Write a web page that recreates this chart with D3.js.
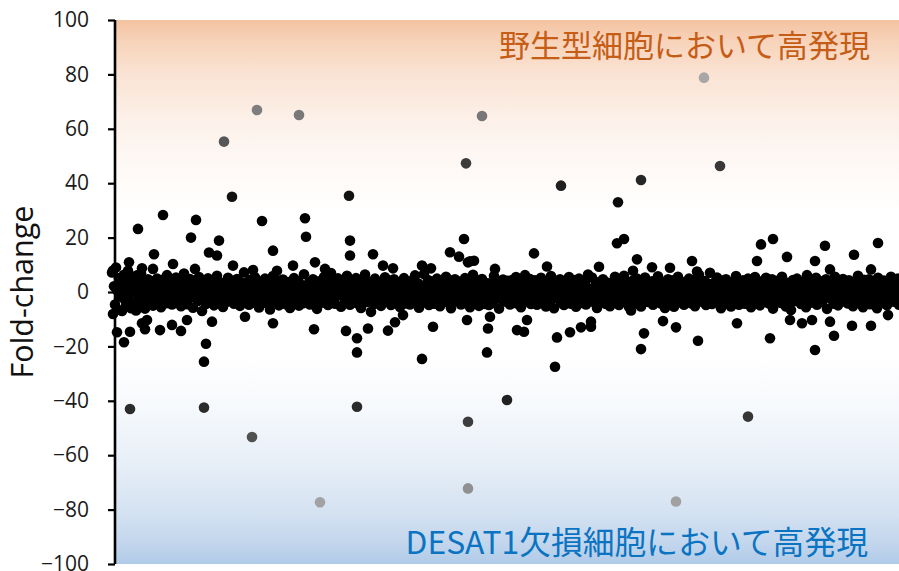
<!DOCTYPE html>
<html>
<head>
<meta charset="utf-8">
<script src="https://cdn.jsdelivr.net/npm/d3@7"></script>
<style>
  html, body { margin: 0; padding: 0; background: #fff; }
  svg { display: block; }
</style>
</head>
<body>
<svg id="chart" width="899" height="571"></svg>
<script>
// Y axis ticks (fold-change)
const yTicks = [-100, -80, -60, -40, -20, 0, 20, 40, 60, 80, 100];

// Region labels
const upperLabel = "野生型細胞において高発現";
const lowerLabel = "DESAT1欠損細胞において高発現";
const yTitle = "Fold-change";

// Fold-change of the bulk of genes, in gene order (gene rank = array position)
const bulkFoldChange = [
  7.2,-8.1,2.1,-4.6,9.0,0.6,-6.5,5.1,-1.7,3.2,-7.0,1.1,6.3,-2.9,-5.2,2.7,7.8,-0.9,4.3,-6.0,
  0.3,5.6,-3.9,1.8,-6.8,6.1,-1.2,2.9,-4.8,6.9,-2.4,0.8,4.0,-6.1,1.4,-0.5,4.7,-4.2,2.3,-1.9,
  3.8,-5.0,0.9,2.6,-2.2,4.9,-3.4,-0.4,1.7,-5.6,4.5,-1.5,0.2,2.8,-4.1,6.2,-0.7,1.3,-2.7,3.5,
  -4.6,0.5,2.4,-1.8,5.3,-3.7,1.0,-0.2,4.2,-5.2,2.0,-2.5,6.8,-1.1,0.7,-4.5,3.1,-0.6,4.8,-2.0,
  1.6,-5.8,3.6,-1.4,0.1,2.5,-3.3,5.5,-0.8,1.9,-7.0,3.9,-2.3,0.4,-4.4,2.2,5.0,-1.0,-3.0,1.2,
  4.4,-0.3,-4.9,2.7,-1.6,6.0,0.9,-3.8,1.5,-2.1,3.3,-5.5,0.6,2.3,-0.9,-3.6,5.2,1.8,-1.3,-2.6,
  0.0,4.1,-4.3,1.4,-0.5,4.8,-2.4,2.1,-5.1,0.8,3.5,-1.7,7.2,-3.4,1.1,-0.1,2.6,-4.7,4.5,-2.2,
  1.9,-0.7,-3.9,5.4,0.3,-1.9,3.0,-5.7,1.0,3.8,-3.1,0.5,-1.2,4.9,-4.0,2.0,-0.4,1.6,-6.4,3.3,
  -2.0,5.9,0.7,-3.6,2.2,-1.1,4.2,-4.9,0.2,1.8,-2.6,4.6,-0.8,3.1,-4.5,1.3,-1.5,3.7,-5.9,0.9,
  2.5,-3.3,5.1,-0.2,1.1,-2.3,4.0,-5.0,0.4,2.7,-1.4,-4.1,6.5,0.8,-2.9,1.7,-0.6,3.4,-4.6,2.3,
  -1.0,4.7,-3.5,0.1,2.0,-6.2,1.5,3.9,-1.8,-0.3,3.1,-3.9,5.5,-2.1,0.6,1.9,-4.8,3.5,-0.9,7.0,
  -2.5,0.3,4.5,-4.3,1.2,-1.3,5.0,-0.5,2.4,-5.4,0.9,3.3,-2.0,-3.4,1.6,6.0,-1.6,2.1,-4.7,0.0,
  3.9,-3.0,1.4,-0.1,5.1,-4.1,2.6,-1.2,0.5,-5.9,4.3,1.0,-2.2,6.4,-0.7,-3.7,2.2,-1.9,3.7,-7.3,
  0.7,2.0,-4.4,4.9,-1.4,1.3,-2.5,3.4,-0.4,-5.1,3.0,0.2,-3.2,5.4,-1.1,1.8,-3.1,4.2,-0.2,-4.8,
  2.4,-1.6,4.7,0.4,-3.6,1.6,-0.8,3.6,-5.5,2.1,-2.4,0.9,5.1,-4.2,1.2,-0.3,2.9,-1.8,-4.6,4.0,
  -0.6,1.5,-3.5,6.1,-2.0,0.6,3.2,-5.8,1.9,-1.0,2.3,-3.9,6.6,-0.9,0.2,-2.8,4.4,-4.8,1.1,2.6,
  -1.5,3.8,-4.3,0.8,-0.1,4.9,-2.7,1.7,-5.2,3.5,0.3,-1.9,2.5,-3.7,5.6,-0.5,1.0,-2.3,4.3,-6.0,
  0.6,2.2,-3.3,4.7,-1.7,0.1,3.9,-3.0,1.4,-4.6,3.1,-0.7,-4.0,5.1,1.2,-2.1,0.4,3.6,-5.6,1.8,
  -0.9,6.3,-3.2,2.0,-1.3,0.7,4.2,-5.1,-2.4,1.5,4.8,-0.3,2.6,-4.4,0.9,-1.6,3.2,-4.8,2.3,-0.1,
  1.7,-4.0,5.9,-2.2,0.5,3.5,-1.0,-6.1,3.0,0.0,-2.8,4.6,-0.6,1.3,-3.6,4.1,-1.4,2.1,-4.6,0.8,
  4.4,-2.0,1.0,-0.4,5.5,-4.2,2.4,-1.2,0.3,-5.6,3.4,-2.5,1.9,6.2,-0.8,-3.5,2.9,-1.7,4.8,-4.4,
  0.2,1.6,-3.1,4.3,-0.5,-4.7,2.2,0.9,-1.9,5.2,-3.7,1.3,-0.2,3.3,-5.3,2.5,-1.1,0.6,-3.4,5.9,
  -1.8,3.1,-6.0,1.1,4.0,-2.3,0.4,-0.9,4.7,-3.9,2.0,-1.5,-4.8,3.6,0.7,-2.7,1.8,5.5,-0.3,-4.3,
  2.6,-1.2,0.1,4.4,-5.4,1.4,-2.1,4.9,-0.7,2.3,-4.0,0.8,-1.6,3.9,-4.6,1.7,6.4,-3.0,0.3,-0.9,
  5.3,-3.6,1.2,-2.0,3.0,-5.9,0.5,3.7,-1.4,-3.2,2.1,4.7,-0.4,1.5,-4.4,0.0,3.4,-2.4,-5.2,2.4,
  -0.8,1.9,-3.9,5.6,-1.9,0.7,2.9,-4.8,4.1,-0.2,-2.6,1.2,6.0,-3.5,0.9,-1.3,3.6,-5.5,2.0,-6.8,
  0.4,4.2,-2.9,1.6,-0.6,4.9,-4.3,2.5,-1.1,-5.3,3.3,0.2,-2.2,5.3,-0.4,1.4,-3.7,3.1,-1.8,0.9,
  3.9,-4.7,1.7,-0.3,2.3,-3.1,5.8,-1.5,0.6,-4.2,3.5,-0.9,1.1,-5.9,2.8,-2.0,4.7,0.1,-3.4,1.9,
  -1.2,4.3,-5.4,0.8,2.1,-2.4,5.6,-0.7,1.3,-3.9,3.7,-1.7,-4.7,2.9,0.5,-3.0,1.8,4.9,-0.1,-4.1,
  2.2,-1.4,4.4,-5.2,0.3,1.6,-2.1,6.3,-0.8,3.0,-3.6,0.7,-1.0,4.0,-4.8,2.4,-2.7,1.0,7.1,-0.5,
  -4.4,1.4,3.4,-1.9,0.0,5.3,-3.2,2.1,-0.6,-6.0,4.2,1.1,-2.3,0.6,4.7,-3.9,1.7,-1.3,3.1,-5.3,
  0.9,-0.2,3.6,-2.9,5.9,-1.6,1.5,-4.7,2.5,-3.5,0.4,4.3,-1.1,-4.3,2.0,-0.4,4.9,-2.5,1.2,-5.6,
  3.3,0.2,-2.0,5.5,-3.7,1.8,-0.9,2.9,-4.9,0.8,3.9,-1.8,-3.2,1.3,5.2,-0.6,2.2,-4.2,0.5,-1.5,
  4.7,-6.1,2.4,-0.1,1.0,-3.1,4.2,-1.2,0.6,-4.0,5.6,-2.2,1.9,-0.8,-5.3,3.4,0.3,-2.4,2.8,-6.6,
  1.4,4.4,-3.4,0.2,-1.7,4.9,-2.7,2.3,-0.4,-4.4,3.7,0.7,-1.4,2.0,-5.6,6.2,-0.7,1.6,-3.0,3.5,
  -3.9,0.5,3.1,-1.0,5.2,-4.7,1.2,-2.3,4.0,-0.3,-3.6,2.1,0.9,-1.9,4.7,-6.2,1.7,-0.5,3.3,-2.6,
  0.1,2.8,-4.3,5.6,-1.3,0.8,-4.9,3.6,-0.9,1.9,-2.9,4.8,-3.5,0.4,2.6,-1.5,-4.2,4.3,1.0,-0.2,
  3.0,-5.2,1.3,-2.1,3.9,-0.6,6.0,-3.7,0.6,-1.1,2.2,-5.6,4.5,0.0,-2.8,1.5,-0.8,4.7,-4.5,2.0,
  -1.6,0.7,3.5,-3.2,1.8,-6.0,5.2,-0.3,2.7,-2.2,0.3,-4.0,4.2,1.1,-1.2,-4.9,3.1,0.9,-3.1,5.6,
  -0.5,1.6,-3.6,3.8,-1.8,0.2,4.9,-4.7,2.1,-0.7,-2.5,3.3,1.2,-4.5,0.6,6.1,-1.4,3.0,-5.4,0.0
];

// Genes standing out from the bulk: gene rank and fold-change
const distinctRank = [
  145, 187, 112, 370, 354, 592, 608, 120, 237, 449, 529, 506,
  51, 26, 84, 150, 193, 79, 107, 194, 238, 352, 505, 512, 649, 661, 713, 766,
  42, 161, 97, 105, 238, 261, 338, 347, 422, 675, 742, 525,
  17, 362, 356, 181, 203, 271, 310, 61, 121, 83, 30, 41, 383, 281, 319,
  165, 141, 213, 435, 540, 580, 645, 703, 487, 558, 718, 759, 521, 585, 1, 358,
  18, 92, 245, 140, 356, 395, 208, 356, 636, 564,
  92, 94, 245, 245, 310, 375, 12, 5, 18, 33, 48, 60, 69, 75, 100, 161,
  202, 234, 256, 276, 283, 321, 376, 378, 133, 35, 30, 443, 445, 458, 469,
  479, 479, 405, 412, 529, 532, 586, 658, 703, 722, 740, 759, 551, 564,
  625, 678, 690, 700, 718, 776, 355, 291, 415
];
const distinctFoldChange = [
  66.9, 65.1, 55.3, 64.7, 47.3, 78.8, 46.3, 35.0, 35.4, 39.1, 41.2, 33.0,
  28.3, 23.2, 26.5, 26.1, 27.1, 20.0, 18.9, 20.3, 18.9, 19.5, 17.9, 19.5, 17.5, 19.5, 17.0, 18.0,
  13.9, 15.2, 14.5, 13.4, 13.4, 13.9, 14.6, 13.0, 14.2, 12.9, 13.7, 12.0,
  10.9, 11.5, 10.9, 9.7, 10.9, 9.7, 9.7, 10.3, 9.7, 8.5, 8.7, 8.5, 8.5, 8.7, 8.7,
  7.8, 8.1, 8.5, 9.4, 9.1, 11.4, 11.4, 11.4, 9.3, 8.9, 8.3, 8.3, 7.8, 7.5, 7.9, 11.3,
  -43.0, -42.5, -42.2, -53.3, -47.7, -39.7, -77.3, -72.2, -45.8, -77.0,
  -25.6, -19.0, -22.2, -17.0, -24.6, -22.2, -18.5, -14.8, -14.6, -13.7, -14.0, -12.1, -14.3, -10.3, -10.9, -11.5,
  -13.7, -14.3, -13.4, -14.2, -11.1, -12.8, -13.4, -9.1, -9.1, -10.3, -11.5, -27.5, -16.7, -14.8, -13.0,
  -12.8, -10.9, -14.0, -14.6, -21.0, -15.2, -17.9, -17.0, -21.3, -16.1, -12.4, -12.4, -10.7, -13.0,
  -11.5, -10.3, -11.5, -10.3, -10.9, -8.5, -10.3, -8.5, -10.3
];

const plotLeft = 115, plotRight = 899, plotTop = 20, plotBottom = 564;

const svg = d3.select("#chart");

const x = d3.scaleLinear().domain([0, 790]).range([112, 902]);
const y = d3.scaleLinear().domain([-100, 100]).range([plotBottom, plotTop]);

// Shade of a point grows lighter the further it lies from zero
const shade = d3.scaleLinear().domain([30, 80]).range(["#000000", "#ababab"]).clamp(true);

// Background: orange toward the top, blue toward the bottom
const defs = svg.append("defs");
const grad = defs.append("linearGradient")
  .attr("id", "bg").attr("x1", 0).attr("y1", 0).attr("x2", 0).attr("y2", 1);
[
  [0, "#F4C3A0"], [0.04, "#F7D3BA"], [0.1, "#FAE3D4"], [0.18, "#FCF0E8"], [0.27, "#FEF9F6"], [0.36, "#FFFFFF"],
  [0.62, "#FFFFFF"], [0.72, "#F5F8FC"], [0.82, "#E6EEF7"], [0.91, "#D3E1F1"], [0.97, "#BFD4EC"], [1, "#B0CAE7"]
].forEach(([o, c]) => grad.append("stop").attr("offset", o).attr("stop-color", c));

svg.append("rect")
  .attr("x", plotLeft).attr("y", plotTop)
  .attr("width", plotRight - plotLeft).attr("height", plotBottom - plotTop)
  .attr("fill", "url(#bg)");

// Region labels
svg.append("text")
  .attr("x", 870).attr("y", 57)
  .attr("text-anchor", "end")
  .attr("font-family", "'Noto Sans CJK JP', sans-serif")
  .attr("font-size", 31)
  .attr("fill", "#C65D17")
  .text(upperLabel);

svg.append("text")
  .attr("x", 868).attr("y", 554)
  .attr("text-anchor", "end")
  .attr("font-family", "'Noto Sans CJK JP', sans-serif")
  .attr("font-size", 31.8)
  .attr("fill", "#0B74C2")
  .text(lowerLabel);

// Y axis
const yAxis = d3.axisLeft(y).tickValues(yTicks).tickSize(7).tickPadding(19).tickFormat(d3.format("d"));
const gy = svg.append("g").attr("transform", `translate(${plotLeft},0)`).call(yAxis);
gy.select(".domain").attr("stroke", "#000").attr("stroke-width", 2.6)
  .attr("d", `M0,${plotTop}V${plotBottom}`);
gy.selectAll(".tick line").attr("stroke", "#000").attr("stroke-width", 2.2);
gy.selectAll(".tick text")
  .attr("font-family", "'Open Sans', sans-serif")
  .attr("font-size", 21)
  .attr("fill", "#1a1a1a");

svg.append("text")
  .attr("transform", `translate(33,292) rotate(-90)`)
  .attr("text-anchor", "middle")
  .attr("font-family", "'Open Sans', sans-serif")
  .attr("font-size", 30.5)
  .attr("fill", "#111")
  .text(yTitle);

// Points
const bulk = bulkFoldChange.map((v, i) => ({ rank: i, fc: v }));
const distinct = distinctRank.map((r, i) => ({ rank: r, fc: distinctFoldChange[i] }));
const points = bulk.concat(distinct);

svg.append("g")
  .selectAll("circle")
  .data(points)
  .join("circle")
  .attr("cx", d => x(d.rank))
  .attr("cy", d => y(d.fc))
  .attr("r", 5.3)
  .attr("fill", d => shade(Math.abs(d.fc)));
</script>
</body>
</html>
